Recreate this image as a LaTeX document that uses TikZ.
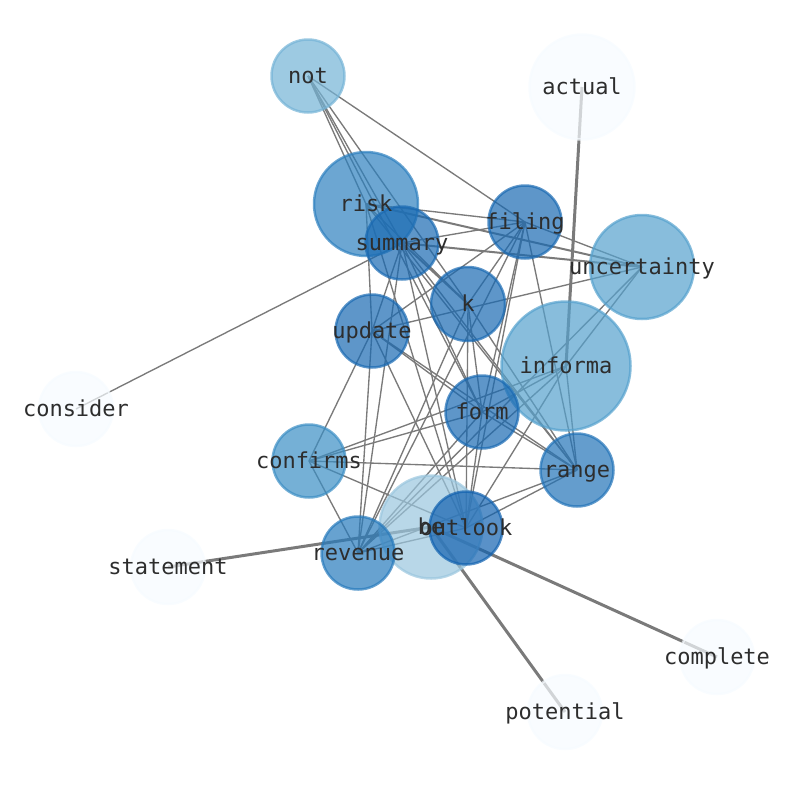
\documentclass[tikz,border=0pt]{standalone}
\usepackage{fontspec}
\newfontfamily\lblfont{DejaVu Sans Mono}
\pgfdeclarelayer{edgelayer}
\pgfdeclarelayer{nodelayer}
\pgfsetlayers{edgelayer,nodelayer,main}
\definecolor{lblc}{RGB}{45,45,45}
\definecolor{edgec}{RGB}{122,122,122}
\definecolor{cNot}{RGB}{116,179,214}
\definecolor{cRisk}{RGB}{45,128,191}
\definecolor{cDark}{RGB}{25,105,178}
\definecolor{cUnc}{RGB}{85,161,205}
\definecolor{cConf}{RGB}{59,142,196}
\definecolor{cRange}{RGB}{34,115,184}
\definecolor{cRev}{RGB}{39,122,188}
\definecolor{cBe}{RGB}{154,198,222}
\definecolor{cOut}{RGB}{18,98,176}
\definecolor{cLeaf}{RGB}{246,251,255}
\tikzset{
  vert/.style 2 args={circle, fill=#1, draw=#1, fill opacity=0.7, draw opacity=0.7,
    line width=2.5pt, minimum size=#2, inner sep=0pt, outer sep=0pt},
  lbl/.style={font=\lblfont\fontsize{22}{26}\selectfont, text=lblc, inner sep=0pt,
    text height=17pt, text depth=1.8pt},
  edge/.style={draw=edgec, line width=1.35pt},
  midedge/.style={draw=edgec, line width=2pt},
  heavy/.style={draw=edgec, line width=3pt},
}
\begin{document}
\begin{tikzpicture}[x=1pt,y=-1pt]
\useasboundingbox (0,0) rectangle (794,790);
\begin{pgfonlayer}{nodelayer}
\node[vert={cLeaf}{105}] (actual) at (582,87) {};
\node[vert={cLeaf}{74}] (consider) at (76,409) {};
\node[vert={cLeaf}{74}] (statement) at (168,567) {};
\node[vert={cLeaf}{74}] (complete) at (717,657) {};
\node[vert={cLeaf}{74}] (potential) at (565,712) {};
\node[vert={cBe}{103}] (be) at (431,527) {};
\node[vert={cNot}{73}] (not) at (308,76) {};
\node[vert={cUnc}{104}] (uncertainty) at (642,267) {};
\node[vert={cUnc}{129}] (informa) at (566,366) {};
\node[vert={cRisk}{104}] (risk) at (366,204) {};
\node[vert={cConf}{73}] (confirms) at (309,461) {};
\node[vert={cRev}{73}] (revenue) at (358,553) {};
\node[vert={cRange}{73}] (range) at (577,470) {};
\node[vert={cDark}{73}] (summary) at (402,243) {};
\node[vert={cDark}{73}] (filing) at (525,222) {};
\node[vert={cDark}{74}] (k) at (468,304) {};
\node[vert={cDark}{73}] (update) at (372,331) {};
\node[vert={cDark}{73}] (form) at (482,412) {};
\node[vert={cOut}{73}] (outlook) at (466,528) {};
\end{pgfonlayer}
\begin{pgfonlayer}{edgelayer}
\foreach \a/\b in {not/risk, not/summary, not/k, not/form, not/filing,
  risk/filing, risk/update, risk/k, risk/outlook, risk/range,
  summary/filing, summary/update, summary/form, summary/outlook, summary/revenue,
  summary/range, summary/consider,
  filing/uncertainty, filing/k, filing/update, filing/form, filing/outlook,
  filing/revenue, filing/range,
  uncertainty/update, uncertainty/informa, uncertainty/revenue,
  k/form, k/outlook, k/range, k/revenue,
  update/form, update/range, update/revenue, update/confirms, update/outlook,
  informa/form, informa/confirms, informa/revenue, informa/range, informa/outlook,
  form/range, form/confirms, form/outlook, form/revenue,
  confirms/range, confirms/outlook, confirms/revenue,
  range/outlook, range/revenue, outlook/revenue}
  \draw[edge] (\a.center) -- (\b.center);
\foreach \a/\b in {risk/uncertainty, summary/uncertainty, summary/k}
  \draw[midedge] (\a.center) -- (\b.center);
\foreach \a/\b in {informa/actual, be/statement, be/complete, be/potential}
  \draw[heavy] (\a.center) -- (\b.center);
\end{pgfonlayer}
\foreach \n in {actual,consider,statement,complete,potential,be,not,uncertainty,
  informa,risk,confirms,revenue,range,summary,filing,k,update,form,outlook}
  \node[lbl] at (\n.center) {\n};
\end{tikzpicture}
\end{document}
